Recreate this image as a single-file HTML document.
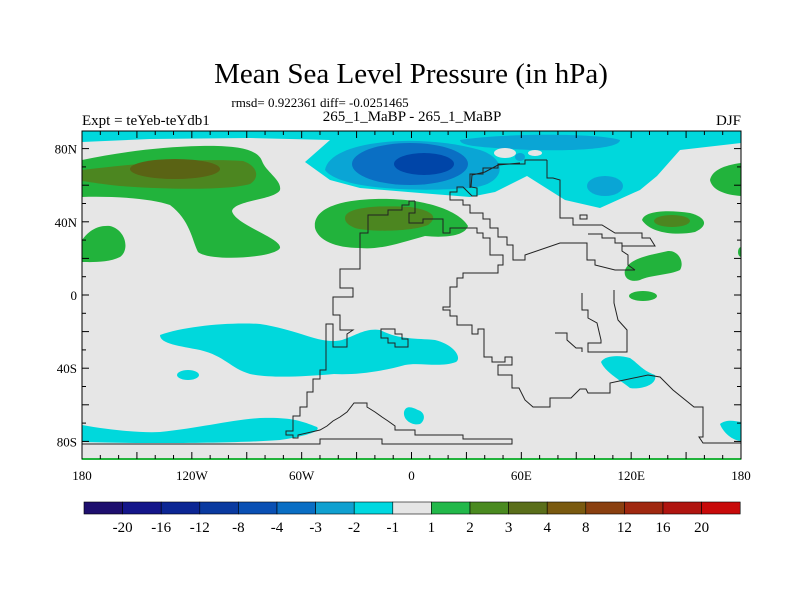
<!DOCTYPE html>
<html><head><meta charset="utf-8"><style>
html,body{margin:0;padding:0;background:#fff;}
svg{display:block;font-family:"Liberation Serif",serif;}
</style></head><body>
<svg id="chart" width="800" height="600" viewBox="0 0 800 600" xmlns="http://www.w3.org/2000/svg">
<text x="411" y="83" font-size="29" text-anchor="middle">Mean Sea Level Pressure (in hPa)</text>
<text x="320" y="107" font-size="13" text-anchor="middle">rmsd= 0.922361 diff= -0.0251465</text>
<text x="82" y="125" font-size="15">Expt = teYeb-teYdb1</text>
<text x="412" y="121" font-size="15" text-anchor="middle">265_1_MaBP - 265_1_MaBP</text>
<text x="741" y="125" font-size="15" text-anchor="end">DJF</text>
<defs><clipPath id="plotclip"><rect x="82" y="131" width="659" height="328"/></clipPath></defs>
<g clip-path="url(#plotclip)">
<rect x="82" y="131" width="659" height="328" fill="#e6e6e6"/>
<!-- top cyan -->
<path fill="#00d8dc" d="M82,131 L741,131 L741,143 L680,150 L657,176 L640,190 L600,208 L565,200 L527,176 L495,192 L470,197 L420,193 L360,188 L330,180 L305,162 L330,140 L250,138 L150,139 L82,142 Z"/>
<path fill="#0aa5d5" d="M325,170 C330,140 420,133 480,150 C510,160 505,185 470,188 C420,192 340,190 325,170 Z"/>
<path fill="#0aa5d5" d="M460,140 C500,133 600,133 620,140 C620,150 560,152 510,149 C480,147 460,146 460,140 Z"/>
<ellipse cx="605" cy="186" rx="18" ry="10" fill="#0aa5d5"/>
<ellipse cx="520" cy="157" rx="5" ry="4" fill="#0aa5d5"/>
<ellipse cx="410" cy="164" rx="58" ry="21" fill="#0a6fc4"/>
<ellipse cx="424" cy="164" rx="30" ry="11" fill="#0045a8"/>
<ellipse cx="505" cy="153" rx="11" ry="5" fill="#e6e6e6"/>
<ellipse cx="535" cy="153" rx="7" ry="3" fill="#e6e6e6"/>
<!-- left green -->
<path fill="#22b33c" d="M82,160 C120,152 160,147 200,146 C240,145 258,150 262,161 C266,172 282,180 280,190 C275,200 235,200 232,211 C235,225 282,238 280,248 C275,258 210,262 198,252 C192,240 190,220 170,205 C150,198 110,196 82,197 Z"/>
<path fill="#4c8620" d="M82,170 C140,163 200,158 243,161 C258,166 260,178 250,184 C230,190 170,190 120,186 C100,184 90,182 82,181 Z"/>
<ellipse cx="175" cy="169" rx="45" ry="10" fill="#5a6314"/>
<path fill="#22b33c" d="M82,240 C88,232 96,225 110,226 C126,230 130,250 120,257 C108,263 90,262 82,262 Z"/>
<!-- Europe green -->
<path fill="#22b33c" d="M315,228 C312,205 350,198 390,199 C430,200 460,212 468,226 C465,236 445,238 425,236 C400,243 380,250 360,248 C335,248 318,240 315,228 Z"/>
<path fill="#4c8620" d="M345,218 C345,207 380,205 410,207 C430,210 440,216 428,225 C410,232 370,232 355,228 C348,225 345,222 345,218 Z"/>
<!-- right greens -->
<path fill="#22b33c" d="M741,163 L741,196 C725,195 712,190 710,180 C712,170 725,165 741,163 Z"/>
<path fill="#22b33c" d="M642,220 C645,210 670,210 690,213 C705,217 710,225 695,232 C675,236 650,233 642,220 Z"/>
<ellipse cx="672" cy="221" rx="18" ry="6" fill="#4c8620"/>
<path fill="#22b33c" d="M625,270 C630,258 650,255 668,251 C678,250 685,262 680,270 C670,275 650,275 640,280 C630,283 623,278 625,270 Z"/>
<ellipse cx="643" cy="296" rx="14" ry="5" fill="#22b33c"/>
<ellipse cx="741" cy="252" rx="3" ry="5" fill="#22b33c"/>
<!-- southern cyan -->
<path fill="#00d8dc" d="M160,335 C185,326 230,322 260,324 C300,330 320,345 342,340 C355,336 365,328 380,330 C400,340 415,338 435,340 C455,345 462,358 456,362 C440,368 420,362 405,365 C380,372 355,375 334,374 C300,377 270,378 250,374 C230,368 225,356 200,350 C180,346 160,344 160,335 Z"/>
<ellipse cx="188" cy="375" rx="11" ry="5" fill="#00d8dc"/>
<path fill="#00d8dc" d="M82,425 C110,430 140,433 160,432 C200,428 230,420 260,418 C288,417 300,420 317,427 C322,432 300,437 280,440 C240,443 160,444 82,442 Z"/>
<path fill="#00d8dc" d="M404,412 C406,404 414,408 418,410 C425,412 426,420 420,424 C412,426 403,420 404,412 Z"/>
<path fill="#00d8dc" d="M601,362 C605,355 620,355 630,358 C640,365 642,370 655,375 C658,385 640,390 630,388 C620,380 605,372 601,362 Z"/>
<path fill="#00d8dc" d="M741,422 L741,441 C730,440 722,430 720,424 C726,419 735,421 741,422 Z"/>
<!-- coastlines -->
<g fill="none" stroke="#222" stroke-width="1">
<polyline points="520,163 498,165 485,172 472,175 471,187 477,188 477,196 472,196 463,187 457,187 457,192 450,192 450,200 463,200 463,205 470,205 470,213 483,213 483,219 490,219 490,228 498,228 498,237 507,237 507,245 513,245 513,260 525,260 525,255 560,243 587,243 587,260 595,260 595,265 615,270 635,270"/>
<polyline points="470,228 477,228 477,233 483,233 483,238 490,238 490,255 503,255 503,265 498,265 498,273 463,273 463,278 457,278 457,287 450,287 450,307 443,307 443,310 450,310 450,316 457,316 457,325 472,325 472,334 478,334 478,329 484,329 484,357 492,357 492,362 505,362 505,357 512,357 512,365 498,365 498,375 512,375 512,388 519,388 525,400 533,407 550,407 550,398 571,398 580,389 586,389 588,393 610,393 610,383 648,375 660,377 673,390 694,407 703,407 703,437 699,437 703,443 741,443"/>
<polyline points="415,201 415,213 409,213 409,223 423,223 423,219 443,219 443,233 450,233 450,228 470,228"/>
<polyline points="415,201 409,201 409,205 402,205 402,210 388,210 388,215 368,215 368,233 360,233 360,269 340,269 340,288 353,288 353,297 333,297 333,315 340,315 340,330 353,330 347,334 347,347 333,347 333,324 326,324 326,370 320,370 320,379 313,379 313,392 307,392 307,407 300,407 300,416 293,416 293,431 286,431 286,435 293,435 293,438 298,438 298,435 320,430 327,426 333,421 340,417 347,412 354,403 367,403 367,407 375,412 382,417 388,421 395,426 395,430 415,430 415,435 463,435 463,439 512,439 512,444 382,444 382,439 320,439 320,444 82,444"/>
<polygon points="381,329 395,329 395,334 402,334 402,339 408,339 408,347 395,347 395,343 388,343 388,338 381,338"/>
<polyline points="547,160 525,160 525,164 498,164 498,168 483,168 483,174 470,174 470,188"/>
<polyline points="547,160 547,178 553,178 560,180 560,218 573,218 573,225 602,225 615,233 642,233 642,238 650,238 655,246 622,246 622,251 628,255 628,265 635,270"/>
<polyline points="588,234 602,234 602,238 615,238 615,243 622,243 622,246"/>
<rect x="580" y="215" width="7" height="4"/>
<polyline points="582,293 582,310 588,310 588,318 597,323 601,340 601,343 588,343 588,352 627,352 627,330 618,320 614,303 614,290"/>
<polyline points="555,333 567,333 567,340 576,348 582,348 582,352"/>
</g>
</g>
<rect x="82" y="131" width="659" height="328" fill="none" stroke="#000" stroke-width="1"/>
<line x1="82" y1="459" x2="741" y2="459" stroke="#22b33c" stroke-width="2"/>
<g id="axes"></g>
<g id="colorbar"></g>
</svg>
<script>
const lonTicks = [-180,-120,-60,0,60,120,180];
const lonLabels = ["180","120W","60W","0","60E","120E","180"];
const latTicks = [80,40,0,-40,-80];
const latLabels = ["80N","40N","0","40S","80S"];
const levels = ["-20","-16","-12","-8","-4","-3","-2","-1","1","2","3","4","8","12","16","20"];
const levelColors = ["#1e0f6e","#14168a","#0c2694","#0a3aa0","#0a50b4","#0a6ec4","#10a0d0","#00d8e0","#e6e6e6","#22b84a","#4a8a20","#5a6e1a","#7a5a10","#8a4010","#a02810","#b01510","#c80a0a"];
const NS="http://www.w3.org/2000/svg";
const xOf = lon => 82 + (lon+180)/360*659;
const yOf = lat => 295 - lat*1.83;
const ax = document.getElementById('axes');
function mk(tag, attrs, parent){const e=document.createElementNS(NS,tag);for(const k in attrs)e.setAttribute(k,attrs[k]);parent.appendChild(e);return e;}
for(let lon=-180;lon<=180;lon+=10){
  const x=xOf(lon); const major=lon%30===0; const L=major?7:4;
  const t1=mk('line',{x1:x,y1:131,x2:x,y2:131+L,stroke:'#000'},ax);
  
  
  const t2=mk('line',{x1:x,y1:459,x2:x,y2:459-L,stroke:'#000'},ax);
  
  
}
for(let lat=-90;lat<=90;lat+=10){
  const y=yOf(lat); if(y<131||y>459) continue; const major=lat%20===0; const L=major?7:4;
  const t1=mk('line',{x1:82,y1:y,x2:82+L,y2:y,stroke:'#000'},ax);
  
  
  const t2=mk('line',{x1:741,y1:y,x2:741-L,y2:y,stroke:'#000'},ax);
  
  
}
lonTicks.forEach((lon,i)=>{
  const t=mk('text',{x:xOf(lon),y:480,'font-size':13,'text-anchor':'middle'},ax);
  t.textContent=lonLabels[i];
  
  
});
latTicks.forEach((lat,i)=>{
  const t=mk('text',{x:77,y:yOf(lat)+5,'font-size':13,'text-anchor':'end'},ax);
  t.textContent=latLabels[i];
  
  
});
const cb=document.getElementById('colorbar');
const bx0=84, bw=38.6, by=502, bh=12;
levelColors.forEach((c,i)=>{
  const r=mk('rect',{x:bx0+i*bw,y:by,width:bw,height:bh,fill:c,stroke:'#000','stroke-width':0.6},cb);
  
  
});
levels.forEach((lv,i)=>{
  const t=mk('text',{x:bx0+(i+1)*bw,y:532,'font-size':15,'text-anchor':'middle'},cb);
  t.textContent=lv;
  
  
});
</script>
</body></html>
